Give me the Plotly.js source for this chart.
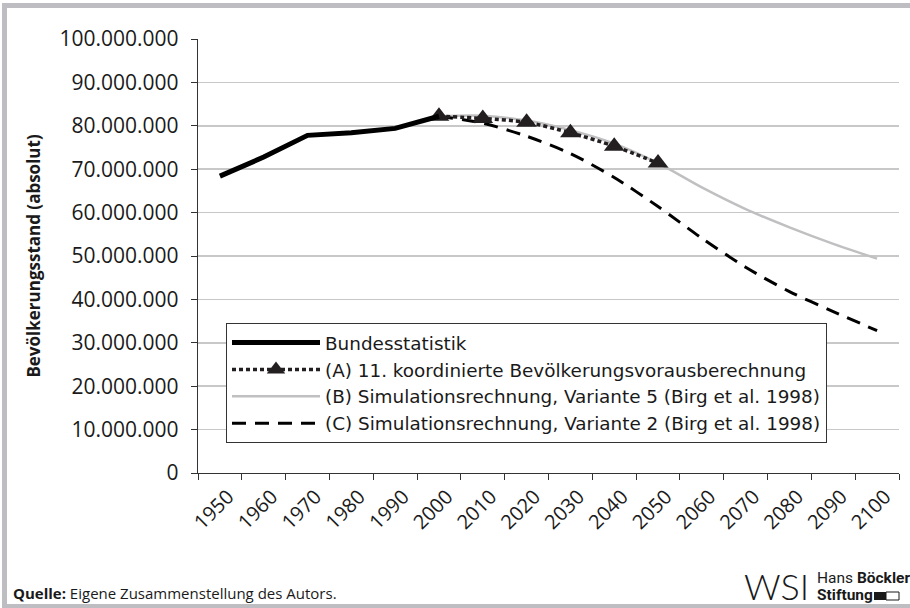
<!DOCTYPE html>
<html>
<head>
<meta charset="utf-8">
<script src="https://cdn.plot.ly/plotly-3.0.1.min.js"></script>
<style>
  html, body { margin: 0; padding: 0; background: #fff; }
  #wrap { position: relative; width: 910px; height: 608px; overflow: hidden; }
  #chart { position: absolute; left: 0; top: 0; width: 910px; height: 608px; }
  #frame { position: absolute; left: 2px; top: 3px; width: 920px; height: 605px;
           border-top: 5px solid #bdbdc2; border-left: 5px solid #bdbdc2; border-bottom: 4px solid #bdbdc2;
           box-sizing: border-box; pointer-events: none; }
</style>
</head>
<body>
<div id="wrap">
  <div id="chart"></div>
  <div id="frame"></div>
</div>
<script>
// ---- data ----
const years = ['1950','1960','1970','1980','1990','2000','2010','2020','2030','2040','2050','2060','2070','2080','2090','2100'];

const histYears = ['1950','1960','1970','1980','1990','2000'];
const histValues = [68400000, 72800000, 77800000, 78400000, 79400000, 82200000];

const aYears = ['2000','2010','2020','2030','2040','2050'];
const aValues = [82200000, 81700000, 80800000, 78400000, 75300000, 71400000];

const bYears = ['2000','2010','2020','2030','2040','2050','2060','2070','2080','2090','2100'];
const bValues = [82200000, 82300000, 81200000, 79000000, 75900000, 71400000, 65800000, 60800000, 56600000, 52800000, 49400000];

const cYears = ['2000','2010','2020','2030','2040','2050','2060','2070','2080','2090','2100'];
const cValues = [82200000, 80600000, 77600000, 73600000, 68100000, 61400000, 54100000, 47400000, 41800000, 37200000, 32800000];

const names = [
  'Bundesstatistik',
  '(A) 11. koordinierte Bevölkerungsvorausberechnung',
  '(B) Simulationsrechnung, Variante 5 (Birg et al. 1998)',
  '(C) Simulationsrechnung, Variante 2 (Birg et al. 1998)'
];
const yTickVals = [0,10000000,20000000,30000000,40000000,50000000,60000000,70000000,80000000,90000000,100000000];
const yTickText = ['0','10.000.000','20.000.000','30.000.000','40.000.000','50.000.000','60.000.000','70.000.000','80.000.000','90.000.000','100.000.000'];

// ---- layout helpers (pixel -> paper) ----
const L = 198, R = 899, T = 39, B = 473;
const px = x => (x - L) / (R - L);
const py = y => (B - y) / (B - T);

const traces = [
  { x: bYears, y: bValues, name: names[2], legendrank: 3, mode: 'lines',
    line: { color: '#c0c0c2', width: 2.5, shape: 'spline', smoothing: 0.8 } },
  { x: cYears, y: cValues, name: names[3], legendrank: 4, mode: 'lines',
    line: { color: '#000', width: 3, dash: '14px,9px', shape: 'spline', smoothing: 0.8 } },
  { x: aYears, y: aValues, name: names[1], legendrank: 2, mode: 'lines+markers',
    line: { color: '#231f20', width: 3.5, dash: '4px,3px', shape: 'spline', smoothing: 0.8 },
    marker: { symbol: 'triangle-up', size: 18, color: '#231f20' } },
  { x: histYears, y: histValues, name: names[0], legendrank: 1, mode: 'lines',
    line: { color: '#000', width: 5 } }
];

const layout = {
  width: 910, height: 608,
  margin: { l: L, r: 910 - R, t: T, b: 608 - B },
  paper_bgcolor: '#fff', plot_bgcolor: '#fff',
  font: { family: 'Open Sans, sans-serif', color: '#1a1a1a' },
  showlegend: true,
  legend: {
    x: px(226), y: py(323), xanchor: 'left', yanchor: 'top',
    bgcolor: '#fff', bordercolor: '#333', borderwidth: 1,
    font: { family: 'DejaVu Sans, sans-serif', size: 18.4, color: '#1a1a1a' },
    itemwidth: 88, traceorder: 'normal', tracegroupgap: 0
  },
  xaxis: {
    type: 'category', categoryorder: 'array', categoryarray: years,
    range: [-0.5, years.length - 0.5],
    tickson: 'boundaries', ticks: 'outside', ticklen: 6, tickcolor: '#333', tickwidth: 1,
    showline: true, linecolor: '#333', linewidth: 1.2,
    showgrid: false, zeroline: false,
    tickangle: -45, ticklabelshift: 8, ticklabelstandoff: 3,
    tickfont: { family: 'Open Sans, sans-serif', size: 20, color: '#1a1a1a' }
  },
  yaxis: {
    range: [0, 100000000], tickvals: yTickVals, ticktext: yTickText,
    ticks: 'outside', ticklen: 6, tickcolor: '#333', tickwidth: 1,
    showline: true, linecolor: '#333', linewidth: 1.2,
    showgrid: true, gridcolor: '#c8c8c8', gridwidth: 1.5, zeroline: false,
    tickfont: { family: 'Open Sans, sans-serif', size: 21, color: '#1a1a1a' },
    ticklabelstandoff: 8,
    title: { text: 'Bevölkerungsstand (absolut)', standoff: 14,
             font: { family: 'Open Sans, sans-serif', size: 17, weight: 'bold', color: '#1a1a1a' } }
  },
  annotations: [
    { xref: 'paper', yref: 'paper', x: px(11), y: py(593), xanchor: 'left', yanchor: 'middle', showarrow: false,
      text: '<b>Quelle:</b> Eigene Zusammenstellung des Autors.',
      font: { family: 'Open Sans, sans-serif', size: 15, color: '#1a1a1a' } },
    { xref: 'paper', yref: 'paper', x: px(742), y: py(586), xanchor: 'left', yanchor: 'middle', showarrow: false,
      text: 'WSI', font: { family: 'Lato, sans-serif', size: 36, weight: 300, color: '#1a1a1a' } },
    { xref: 'paper', yref: 'paper', x: px(815), y: py(578), xanchor: 'left', yanchor: 'middle', showarrow: false,
      text: 'Hans <b>Böckler</b>', font: { family: 'Roboto, sans-serif', size: 15.5, color: '#1a1a1a' } },
    { xref: 'paper', yref: 'paper', x: px(815), y: py(595), xanchor: 'left', yanchor: 'middle', showarrow: false,
      text: '<b>Stiftung</b>', font: { family: 'Roboto, sans-serif', size: 15.5, color: '#1a1a1a' } }
  ],
  shapes: [
    { type: 'rect', xref: 'paper', yref: 'paper', x0: px(874), x1: px(886), y0: py(600), y1: py(592),
      fillcolor: '#1a1a1a', line: { width: 0 } },
    { type: 'rect', xref: 'paper', yref: 'paper', x0: px(886), x1: px(899), y0: py(600), y1: py(592),
      fillcolor: '#fff', line: { color: '#1a1a1a', width: 1 } }
  ]
};

Plotly.newPlot('chart', traces, layout, { displayModeBar: false, staticPlot: true });
</script>
</body>
</html>
